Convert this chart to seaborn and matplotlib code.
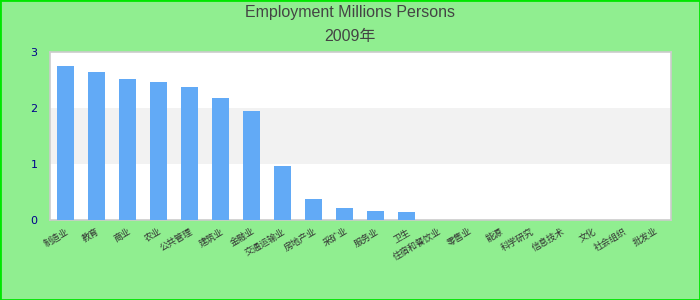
import matplotlib
matplotlib.use("Agg")
import matplotlib.pyplot as plt
import seaborn as sns
import pandas as pd

categories = ["制造业", "教育", "商业", "农业", "公共管理", "建筑业", "金融业", "交通运输业",
              "房地产业", "采矿业", "服务业", "卫生", "住宿和餐饮业", "零售业", "能源",
              "科学研究", "信息技术", "文化", "社会组织", "批发业"]
values = [2.75, 2.64, 2.52, 2.46, 2.375, 2.18, 1.95, 0.965, 0.375, 0.21, 0.16, 0.15,
          0, 0, 0, 0, 0, 0, 0, 0]
yticks = [0, 1, 2, 3]
title = "Employment Millions Persons"
subtitle = "2009年"

sns.set_theme(style="white")
plt.rcParams["font.family"] = ["Liberation Sans", "Noto Sans CJK SC", "DejaVu Sans"]

title_kw = dict(family=["Liberation Sans", "Noto Sans CJK SC"], fontsize=11.5)

df = pd.DataFrame({"cat": categories, "val": values})

fig = plt.figure(figsize=(7, 3), dpi=100, facecolor="#90ee90")
ax = fig.add_axes([50/700, 1-220/300, 620.7/700, (220-51.7)/300])
ax.set_facecolor("white")

sns.barplot(data=df, x="cat", y="val", color="#62aaf6", width=0.55, saturation=1,
            ax=ax, zorder=3, linewidth=0, edgecolor="none")
ax.axhspan(1, 2, facecolor="#f2f2f2", edgecolor="none", zorder=0.5)

ax.set_ylim(0, 3)
ax.set_xlim(-0.5, len(categories) - 0.5)
ax.set_yticks(yticks)
ax.set_yticklabels([str(t) for t in yticks], color="#00008b", fontsize=8,
                   family="DejaVu Sans")
ax.tick_params(axis="y", length=0, pad=9)
ax.tick_params(axis="x", length=0, pad=5)
ax.set_xticks(range(len(categories)))
ax.set_xticklabels(categories, rotation=30, ha="right", rotation_mode="anchor",
                   fontsize=6.5, color="#333333", family=["Noto Sans CJK SC", "DejaVu Sans"])
ax.set_xlabel("")
ax.set_ylabel("")
for s in ax.spines.values():
    s.set_color("#cccccc")
    s.set_linewidth(1.2)

fig.text(0.5, 1-13/300, title, ha="center", va="center", color="#444444", **title_kw)
fig.text(0.5, 1-37/300, subtitle, ha="center", va="center", color="#444444", **title_kw)

fig.patches.append(plt.Rectangle((0, 0), 1, 1, transform=fig.transFigure,
                                 fill=False, edgecolor="#00e600", linewidth=2))
fig.savefig("out.png", dpi=100, facecolor=fig.get_facecolor())
